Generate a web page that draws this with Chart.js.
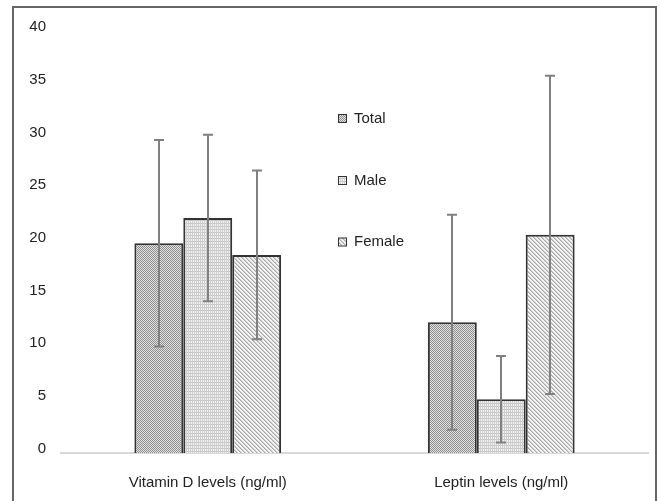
<!DOCTYPE html>
<html>
<head>
<meta charset="utf-8">
<script src="https://cdn.jsdelivr.net/npm/chart.js@4.4.1/dist/chart.umd.min.js"></script>
<style>
  html, body { margin: 0; padding: 0; background: #fff; overflow: hidden; }
  #frame {
    position: absolute; left: 12px; top: 6px; width: 645px; height: 520px;
    border: 2px solid #666; box-sizing: border-box;
  }
  #c { position: absolute; left: 0; top: 0; }
</style>
</head>
<body>
<div id="frame"></div>
<canvas id="c" width="661" height="501"></canvas>
<script>
// categories and series
const categories = ['Vitamin D levels (ng/ml)', 'Leptin levels (ng/ml)'];
const seriesNames = ['Total', 'Male', 'Female'];

// means and error (SD) per category
const totalMeans = [19.9, 12.4];
const totalErr = [9.8, 10.2];
const maleMeans = [22.3, 5.1];
const maleErr = [7.9, 4.1];
const femaleMeans = [18.8, 20.7];
const femaleErr = [8.0, 15.1];

// y axis
const yMin = 0;
const yMax = 40;
const yStep = 5;

const FONT = '"Liberation Sans", Arial, sans-serif';

// fill patterns for the bars
function makePattern(kind) {
    const c = document.createElement('canvas');
    const ctx = c.getContext('2d');
    if (kind === 'checker') {
        c.width = 2; c.height = 2;
        ctx.fillStyle = '#e2e2e2'; ctx.fillRect(0, 0, 2, 2);
        ctx.fillStyle = '#8e8e8e';
        ctx.fillRect(0, 0, 1, 1); ctx.fillRect(1, 1, 1, 1);
    } else if (kind === 'fine') {
        c.width = 2; c.height = 3;
        ctx.fillStyle = '#f2f2f2'; ctx.fillRect(0, 0, 2, 3);
        ctx.fillStyle = '#cfcfcf'; ctx.fillRect(0, 0, 1, 3);
        ctx.fillStyle = '#c4c4c4'; ctx.fillRect(1, 1, 1, 1);
    } else {
        c.width = 4; c.height = 4;
        ctx.fillStyle = '#f4f4f4'; ctx.fillRect(0, 0, 4, 4);
        ctx.fillStyle = '#a9a9a9';
        for (let i = 0; i < 4; i++) ctx.fillRect(i, i, 1, 1);
        ctx.fillStyle = '#cdcdcd';
        for (let i = 0; i < 4; i++) ctx.fillRect((i + 1) % 4, i, 1, 1);
    }
    return document.getElementById('c').getContext('2d').createPattern(c, 'repeat');
}

const patterns = [makePattern('checker'), makePattern('fine'), makePattern('diag')];
const errs = [totalErr, maleErr, femaleErr];

// error bars drawn on top of the bars
const errorBars = {
    id: 'errorBars',
    afterDatasetsDraw(chart) {
        const ctx = chart.ctx;
        const y = chart.scales.y;
        ctx.save();
        ctx.strokeStyle = '#808080';
        ctx.lineWidth = 2;
        chart.data.datasets.forEach((ds, i) => {
            const meta = chart.getDatasetMeta(i);
            meta.data.forEach((bar, j) => {
                const v = ds.data[j], e = errs[i][j];
                const top = y.getPixelForValue(v + e);
                const bot = y.getPixelForValue(v - e);
                const x = Math.round(bar.x);
                ctx.beginPath();
                ctx.moveTo(x, top); ctx.lineTo(x, bot);
                ctx.moveTo(x - 5, top); ctx.lineTo(x + 5, top);
                ctx.moveTo(x - 5, bot); ctx.lineTo(x + 5, bot);
                ctx.stroke();
            });
        });
        ctx.restore();
    }
};

// legend placed inside the plot, stacked vertically
const innerLegend = {
    id: 'innerLegend',
    afterDraw(chart) {
        const ctx = chart.ctx;
        const a = chart.chartArea;
        const x0 = a.left + 277;
        const ys = [118, 180, 241.5];
        ctx.save();
        ctx.font = '15px ' + FONT;
        ctx.textBaseline = 'middle';
        chart.data.datasets.forEach((ds, i) => {
            const yy = ys[i];
            ctx.fillStyle = patterns[i];
            ctx.fillRect(x0, yy - 4, 8, 8);
            ctx.strokeStyle = '#333';
            ctx.lineWidth = 1;
            ctx.strokeRect(x0 + 0.5, yy - 3.5, 8, 8);
            ctx.fillStyle = '#222';
            ctx.fillText(ds.label, x0 + 16, yy + 0.5);
        });
        ctx.restore();
    }
};

const means = [totalMeans, maleMeans, femaleMeans];

const chart = new Chart(document.getElementById('c').getContext('2d'), {
    type: 'bar',
    data: {
        labels: categories,
        datasets: seriesNames.map((name, i) => ({
            label: name,
            data: means[i],
            backgroundColor: patterns[i],
            borderColor: '#333',
            borderWidth: 2,
            categoryPercentage: 0.5,
            barPercentage: 1.0
        }))
    },
    options: {
        responsive: false,
        devicePixelRatio: 1,
        animation: false,
        layout: { padding: { top: 31.5, right: 13, bottom: 10, left: 0 } },
        plugins: {
            legend: { display: false },
            tooltip: { enabled: false }
        },
        scales: {
            x: {
                grid: { display: false, drawTicks: false },
                border: { display: true, color: '#d9d9d9', width: 2 },
                ticks: {
                    padding: 21,
                    color: '#222',
                    font: { family: FONT, size: 15 }
                },
                afterFit(axis) { axis.height = 38; }
            },
            y: {
                min: yMin,
                max: yMax,
                grid: { display: false, drawTicks: false },
                border: { display: false },
                ticks: {
                    stepSize: yStep,
                    padding: 15,
                    labelOffset: -4.5,
                    color: '#222',
                    font: { family: FONT, size: 15 }
                },
                afterFit(axis) { axis.width = 61; }
            }
        }
    },
    plugins: [errorBars, innerLegend]
});
</script>
</body>
</html>
